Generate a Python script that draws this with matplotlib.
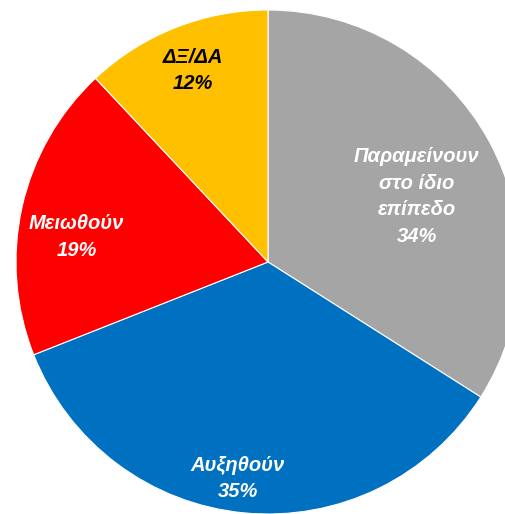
import matplotlib
matplotlib.use("Agg")
import matplotlib.pyplot as plt

categories = ["Παραμείνουν\nστο ίδιο\nεπίπεδο", "Αυξηθούν", "Μειωθούν", "ΔΞ/ΔΑ"]
values = [34, 35, 19, 12]
colors = ["#A5A5A5", "#0070C0", "#FF0000", "#FFC000"]
text_colors = ["white", "white", "white", "black"]
label_pos = [(0.59, 0.26), (-0.12, -0.86), (-0.76, 0.10), (-0.30, 0.76)]

fig = plt.figure(figsize=(5.06, 5.14), dpi=100)
ax = fig.add_axes([16 / 506, 0, 504 / 506, 504 / 514])
ax.pie(values, colors=colors, startangle=90, counterclock=False,
       wedgeprops=dict(edgecolor="white", linewidth=0.8), radius=1.0)
ax.set_xlim(-1, 1)
ax.set_ylim(-1, 1)
ax.set_aspect("auto")
ax.axis("off")

for cat, v, (x, y), tc in zip(categories, values, label_pos, text_colors):
    ax.text(x, y, f"{cat}\n{v}%", ha="center", va="center", color=tc,
            fontsize=14.5, fontweight="bold", fontstyle="italic",
            family=["Liberation Sans", "DejaVu Sans"], linespacing=1.5)

fig.savefig("out.png", dpi=100)
